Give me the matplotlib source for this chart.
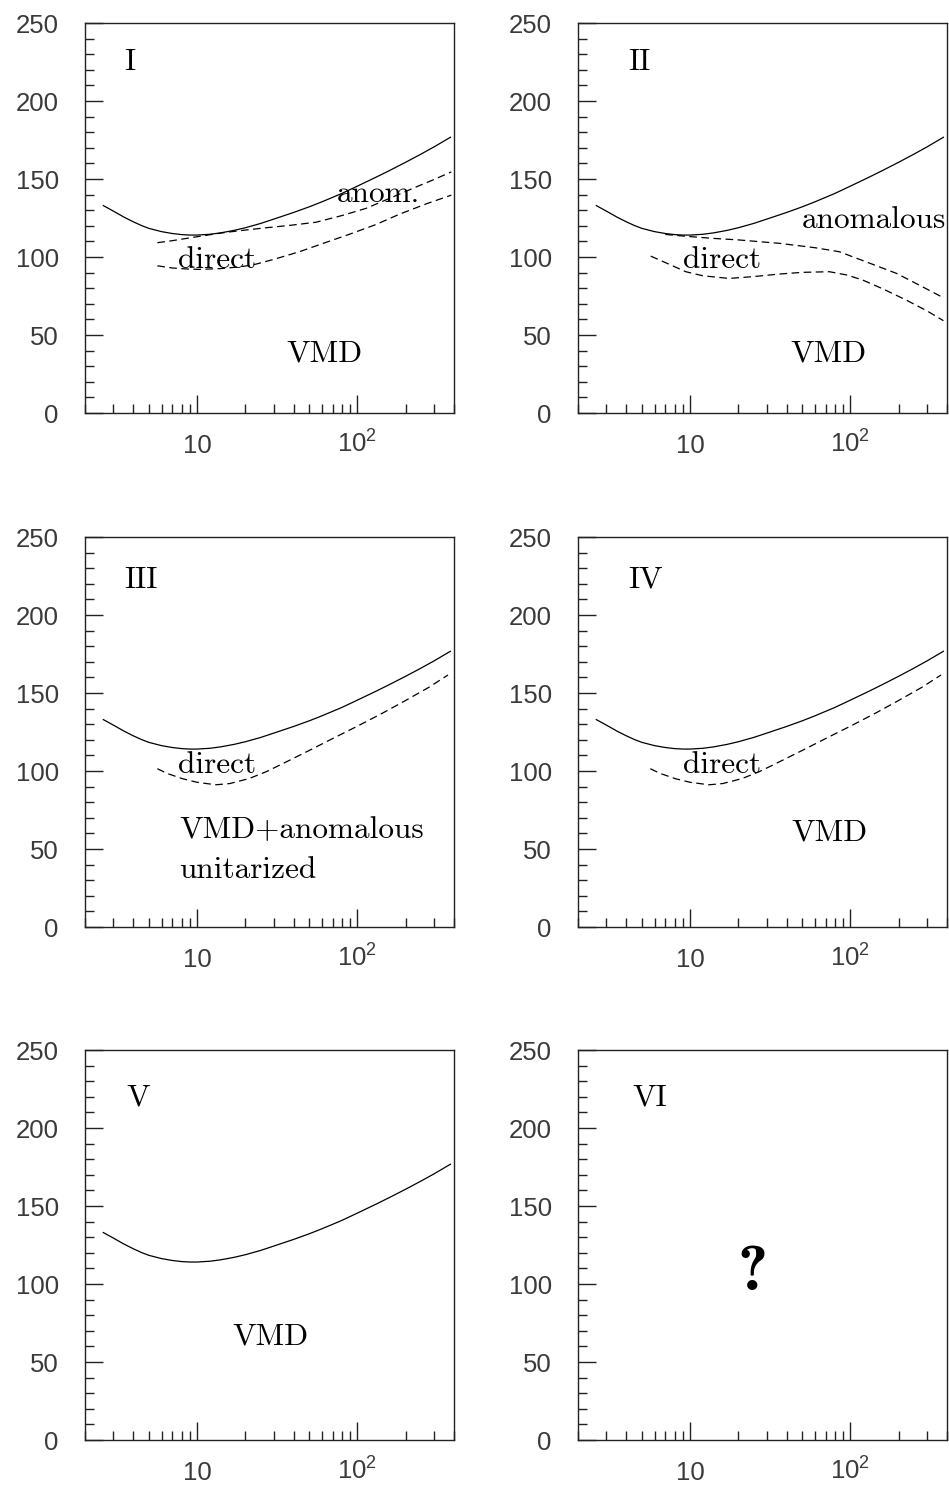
"""Six-panel cross-section sketch (VMD / direct / anomalous), log energy axis."""
import matplotlib
matplotlib.use("Agg")
import matplotlib.pyplot as plt
from matplotlib.ticker import FixedLocator, LogLocator, MultipleLocator, NullFormatter

plt.rcParams["font.family"] = ["Liberation Sans", "DejaVu Sans"]
plt.rcParams["lines.scale_dashes"] = False

# total curve, same in panels I-V
total_x = [2.6, 3, 3.5, 4, 4.5, 5, 6, 7, 8, 9, 10, 12, 14, 17, 20, 25, 30, 40,
           50, 60, 80, 100, 130, 160, 200, 250, 300, 380]
total_y = [133, 129.5, 125.6, 122.6, 120.2, 118.4, 116.3, 115.1, 114.4, 114.1,
           114.1, 114.6, 115.5, 117.1, 118.8, 121.6, 124.3, 128.6, 132.2, 135.4,
           140.8, 145.5, 151.1, 155.7, 160.8, 166.1, 170.6, 176.8]

# panel I
p1_anom_x = [5.65, 7, 9, 12, 15, 20, 27, 37, 55, 80, 113, 160, 233, 300, 385]
p1_anom_y = [109.2, 110.5, 112.3, 114.3, 115.8, 117.3, 118.8, 120.2, 122.3,
             126.6, 131.2, 137.8, 145, 149.7, 154.6]
p1_direct_x = [5.65, 7, 8.5, 10.3, 14, 18, 22.2, 30, 43.4, 60, 89, 130, 183, 270, 385]
p1_direct_y = [94.4, 93, 92.4, 92.1, 92.6, 93.6, 94.9, 98.5, 103.4, 108.5,
               114.6, 120.8, 127.5, 134.2, 139.7]

# panel II
p2_anom_x = [7, 9, 13.8, 20, 36, 60, 85.3, 130, 193, 270, 380]
p2_anom_y = [114.5, 113.5, 112, 111, 108.8, 106, 103.4, 96.3, 89.6, 81.9, 73.9]
p2_direct_x = [5.68, 7, 9.4, 12, 17.5, 25, 36, 50, 74, 95, 119, 160, 223, 300, 380]
p2_direct_y = [100.6, 96.5, 90.6, 88, 86.3, 87.5, 89.1, 90.2, 90.6, 88.5, 85.3,
               79.5, 72.4, 65.5, 59.2]

# panels III and IV
p34_direct_x = [5.65, 6.5, 8.1, 10, 13.1, 16, 21.1, 27, 34.1, 50, 70.2, 100,
                144.3, 200, 280, 367]
p34_direct_y = [101.5, 98.5, 95.1, 92.8, 91.2, 92, 95.2, 99.6, 104.7, 113.2,
                120.9, 128.8, 137.3, 145.3, 153.8, 161.6]

panel_names = ["I", "II", "III", "IV", "V", "VI"]
x_major = [10, 100]
x_labels = ["10", r"$\mathregular{10^{2}}$"]
y_major = [0, 50, 100, 150, 200, 250]

SERIF = "cmr10"
TXT = 22.5
DASH = (0, (5.5, 3.2))

fig = plt.figure(figsize=(9.49, 14.89), dpi=100)
lefts = [0.0896, 0.6091]
bottoms = [0.7226, 0.3774, 0.0329]
W, H = 0.3888, 0.2619

axes = []
for r in range(3):
    for c in range(2):
        axes.append(fig.add_axes([lefts[c], bottoms[r], W, H]))

for ax, name in zip(axes, panel_names):
    ax.set_xscale("log")
    ax.set_xlim(2, 400)
    ax.set_ylim(0, 250)
    ax.xaxis.set_major_locator(FixedLocator(x_major))
    ax.xaxis.set_minor_locator(LogLocator(base=10, subs=range(2, 10)))
    ax.xaxis.set_minor_formatter(NullFormatter())
    ax.set_xticklabels(x_labels)
    ax.yaxis.set_major_locator(FixedLocator(y_major))
    ax.yaxis.set_minor_locator(MultipleLocator(10))
    ax.tick_params(which="both", direction="in", top=False, right=False,
                   width=1.0, color="#222222")
    ax.tick_params(which="major", length=13)
    ax.tick_params(which="minor", length=6.5)
    ax.tick_params(axis="y", which="major", pad=19, labelsize=18.5, labelcolor="#3a3a3a")
    ax.tick_params(axis="x", which="major", pad=28.5, labelsize=18.5, labelcolor="#3a3a3a")
    for lbl in ax.get_xticklabels():
        lbl.set_verticalalignment("baseline")
    for sp in ax.spines.values():
        sp.set_linewidth(1.0)
        sp.set_color("#222222")
    ypos = 0.879 if name in ("I", "II") else (0.870 if name in ("III", "IV") else 0.859)
    xpos = 0.106 if name in ("I", "III", "V") else 0.136
    if name == "V":
        xpos = 0.111
    if name == "VI":
        xpos = 0.146
    ax.text(xpos, ypos, name, transform=ax.transAxes, family=SERIF, fontsize=TXT,
            va="baseline", ha="left")

for ax in axes[:5]:
    ax.plot(total_x, total_y, color="black", lw=0.9)

ax1, ax2, ax3, ax4, ax5, ax6 = axes
ax1.plot(p1_anom_x, p1_anom_y, color="black", lw=0.9, linestyle=DASH)
ax1.plot(p1_direct_x, p1_direct_y, color="black", lw=0.9, linestyle=DASH)
ax1.text(0.683, 0.541, "anom.", transform=ax1.transAxes, family=SERIF, fontsize=TXT, va="baseline")
ax1.text(0.252, 0.372, "direct", transform=ax1.transAxes, family=SERIF, fontsize=TXT, va="baseline")
ax1.text(0.547, 0.131, "VMD", transform=ax1.transAxes, family=SERIF, fontsize=TXT, va="baseline")

ax2.plot(p2_anom_x, p2_anom_y, color="black", lw=0.9, linestyle=DASH)
ax2.plot(p2_direct_x, p2_direct_y, color="black", lw=0.9, linestyle=DASH)
ax2.text(0.607, 0.474, "anomalous", transform=ax2.transAxes, family=SERIF, fontsize=TXT, va="baseline")
ax2.text(0.285, 0.372, "direct", transform=ax2.transAxes, family=SERIF, fontsize=TXT, va="baseline")
ax2.text(0.575, 0.131, "VMD", transform=ax2.transAxes, family=SERIF, fontsize=TXT, va="baseline")

ax3.plot(p34_direct_x, p34_direct_y, color="black", lw=0.9, linestyle=DASH)
ax3.text(0.252, 0.396, "direct", transform=ax3.transAxes, family=SERIF, fontsize=TXT, va="baseline")
ax3.text(0.255, 0.228, "VMD+anomalous", transform=ax3.transAxes, family=SERIF, fontsize=TXT, va="baseline")
ax3.text(0.255, 0.125, "unitarized", transform=ax3.transAxes, family=SERIF, fontsize=TXT, va="baseline")

ax4.plot(p34_direct_x, p34_direct_y, color="black", lw=0.9, linestyle=DASH)
ax4.text(0.285, 0.396, "direct", transform=ax4.transAxes, family=SERIF, fontsize=TXT, va="baseline")
ax4.text(0.578, 0.223, "VMD", transform=ax4.transAxes, family=SERIF, fontsize=TXT, va="baseline")

ax5.text(0.398, 0.244, "VMD", transform=ax5.transAxes, family=SERIF, fontsize=TXT, va="baseline")

ax6.text(0.474, 0.385, "?", transform=ax6.transAxes, family="cmb10", fontsize=46,
         va="baseline", ha="center")

fig.savefig("out.png", dpi=100)
